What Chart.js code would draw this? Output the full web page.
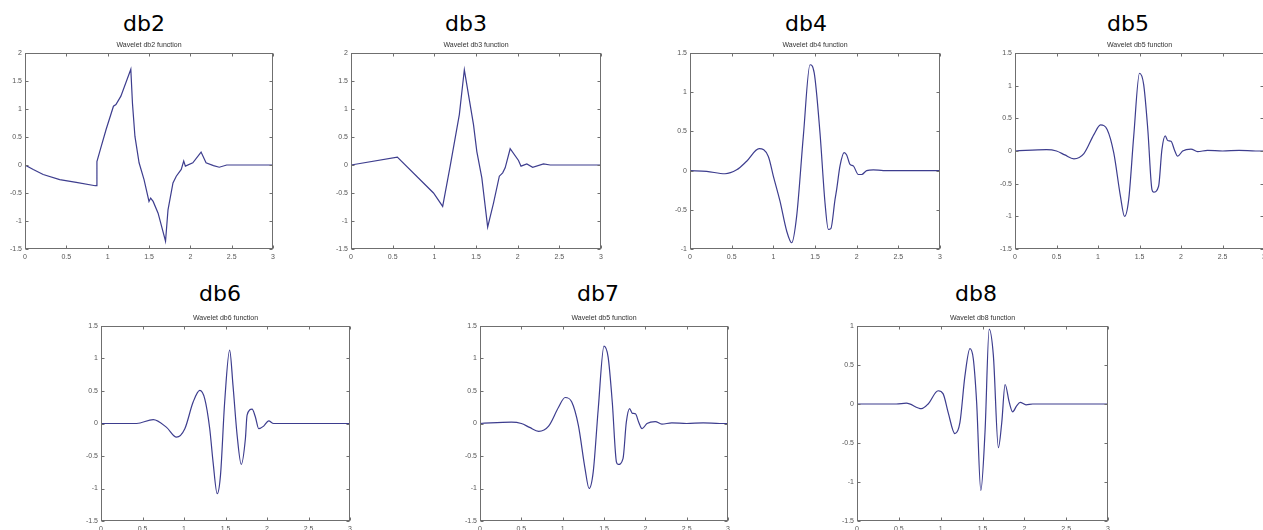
<!DOCTYPE html>
<html>
<head>
<meta charset="utf-8">
<script src="https://cdn.jsdelivr.net/npm/chart.js@4.4.1/dist/chart.umd.min.js"></script>
<style>
  html, body { margin: 0; padding: 0; background: #fff; }
  body { position: relative; width: 1263px; height: 530px; overflow: hidden; }
  .name {
    position: absolute;
    font-family: "DejaVu Sans", Verdana, sans-serif;
    font-size: 22px;
    line-height: 22px;
    color: #000;
    transform: translateX(-50%);
    white-space: nowrap;
  }
  canvas { position: absolute; }
</style>
</head>
<body>

<div class="name" style="left:144px; top:13px">db2</div>
<div class="name" style="left:466px; top:13px">db3</div>
<div class="name" style="left:806px; top:13px">db4</div>
<div class="name" style="left:1128px; top:13px">db5</div>
<div class="name" style="left:220px; top:283px">db6</div>
<div class="name" style="left:598px; top:283px">db7</div>
<div class="name" style="left:976px; top:283px">db8</div>

<canvas id="c-db2"></canvas>
<canvas id="c-db3"></canvas>
<canvas id="c-db4"></canvas>
<canvas id="c-db5"></canvas>
<canvas id="c-db6"></canvas>
<canvas id="c-db7"></canvas>
<canvas id="c-db8"></canvas>

<script>
// tick labels
const xTicks = [0, 0.5, 1, 1.5, 2, 2.5, 3];
const yTicksDb2 = [-1.5, -1, -0.5, 0, 0.5, 1, 1.5, 2];
const yTicksDb4 = [-1, -0.5, 0, 0.5, 1, 1.5];
const yTicksDb5 = [-1.5, -1, -0.5, 0, 0.5, 1, 1.5];
const yTicksDb8 = [-1.5, -1, -0.5, 0, 0.5, 1];

// wavelet curves
const db2X = [0, 0.1, 0.22, 0.42, 0.62, 0.85, 0.86, 0.87, 0.91, 0.98, 1.07, 1.10, 1.16, 1.28, 1.30, 1.33, 1.38, 1.44, 1.50, 1.52, 1.55, 1.61, 1.70, 1.73, 1.79, 1.83, 1.89, 1.92, 1.94, 2.03, 2.13, 2.19, 2.28, 2.35, 2.44, 3];
const db2Y = [0, -0.08, -0.17, -0.26, -0.31, -0.37, -0.37, 0.06, 0.27, 0.63, 1.05, 1.08, 1.23, 1.71, 1.1, 0.51, 0.04, -0.26, -0.65, -0.59, -0.65, -0.86, -1.36, -0.8, -0.32, -0.2, -0.08, 0.07, -0.02, 0.04, 0.23, 0.04, -0.01, -0.04, 0, 0];

const db3X = [0, 0.556, 0.99, 1.10, 1.19, 1.30, 1.36, 1.47, 1.51, 1.57, 1.64, 1.71, 1.78, 1.82, 1.85, 1.91, 2.01, 2.04, 2.11, 2.18, 2.31, 2.39, 3];
const db3Y = [0, 0.14, -0.5, -0.74, -0.02, 0.9, 1.70, 0.72, 0.24, -0.23, -1.11, -0.68, -0.2, -0.14, -0.05, 0.29, 0.08, -0.02, 0.02, -0.04, 0.02, 0, 0];

const db4X = [0, 0.2, 0.42, 0.56, 0.68, 0.83, 0.94, 1.0, 1.08, 1.16, 1.22, 1.28, 1.36, 1.44, 1.49, 1.56, 1.62, 1.66, 1.69, 1.74, 1.76, 1.80, 1.85, 1.88, 1.92, 1.96, 2.02, 2.06, 2.12, 2.2, 2.32, 3];
const db4Y = [0, -0.01, -0.04, 0.01, 0.12, 0.28, 0.18, -0.07, -0.39, -0.77, -0.92, -0.58, 0.44, 1.35, 1.25, 0.48, -0.41, -0.75, -0.74, -0.37, -0.24, 0.06, 0.23, 0.2, 0.08, 0.06, -0.05, -0.05, 0, 0.01, 0, 0];

const db5X = [0, 0.38, 0.50, 0.60, 0.71, 0.83, 0.95, 1.03, 1.11, 1.19, 1.27, 1.32, 1.37, 1.43, 1.50, 1.55, 1.60, 1.65, 1.67, 1.73, 1.77, 1.81, 1.84, 1.88, 1.92, 1.96, 2.02, 2.12, 2.20, 2.32, 2.5, 2.7, 2.9, 3];
const db5Y = [0, 0.02, 0, -0.06, -0.12, -0.04, 0.25, 0.40, 0.33, -0.03, -0.69, -1.0, -0.74, 0.22, 1.19, 1.02, 0.33, -0.59, -0.63, -0.54, 0.02, 0.23, 0.16, 0.15, 0.02, -0.08, 0, 0.03, -0.01, 0.01, 0, 0.01, 0, 0];

const db6X = [0, 0.43, 0.63, 0.79, 0.91, 1.01, 1.11, 1.19, 1.25, 1.31, 1.35, 1.40, 1.44, 1.49, 1.55, 1.59, 1.64, 1.69, 1.74, 1.76, 1.82, 1.86, 1.90, 1.96, 2.02, 2.08, 3];
const db6Y = [0, 0, 0.06, -0.06, -0.21, -0.08, 0.33, 0.51, 0.38, -0.08, -0.59, -1.08, -0.79, 0.33, 1.13, 0.59, -0.18, -0.63, -0.23, 0.13, 0.22, 0.10, -0.08, -0.04, 0.04, 0, 0];

// the db7 panel in the source repeats the db5 plot (its own title says db5)
const db7X = db5X;
const db7Y = db5Y;

const db8X = [0, 0.47, 0.59, 0.77, 0.85, 0.97, 1.03, 1.09, 1.17, 1.23, 1.29, 1.35, 1.39, 1.43, 1.48, 1.53, 1.58, 1.63, 1.69, 1.73, 1.77, 1.82, 1.86, 1.91, 1.95, 2.02, 2.10, 3];
const db8Y = [0, 0, 0.01, -0.06, 0, 0.17, 0.13, -0.11, -0.38, -0.24, 0.36, 0.71, 0.58, 0.02, -1.11, -0.36, 0.96, 0.62, -0.56, -0.24, 0.25, 0.02, -0.10, -0.02, 0.02, -0.01, 0, 0];

const LINE = '#3d3d8e';
const FRAME = '#6f6f6f';
const TICK = '#555';
const FONT = '"Liberation Sans", Arial, sans-serif';
const Y_AXIS_W = 28, X_AXIS_H = 16, TITLE_H = 11, PAD_R = 8, TL = 3;

// MATLAB style box with inward ticks
const framePlugin = {
  id: 'frame',
  afterDatasetsDraw(chart) {
    const { ctx, chartArea: a, scales } = chart;
    const l = Math.round(a.left) + 0.5, r = Math.round(a.right) - 0.5;
    const t = Math.round(a.top) + 0.5, b = Math.round(a.bottom) - 0.5;
    ctx.save();
    ctx.strokeStyle = FRAME;
    ctx.lineWidth = 1;
    ctx.strokeRect(l, t, r - l, b - t);
    ctx.beginPath();
    scales.x.ticks.forEach(tk => {
      const px = Math.round(scales.x.getPixelForValue(tk.value)) + 0.5;
      ctx.moveTo(px, b); ctx.lineTo(px, b - TL);
      ctx.moveTo(px, t); ctx.lineTo(px, t + TL);
    });
    scales.y.ticks.forEach(tk => {
      const py = Math.round(scales.y.getPixelForValue(tk.value)) + 0.5;
      ctx.moveTo(l, py); ctx.lineTo(l + TL, py);
      ctx.moveTo(r, py); ctx.lineTo(r - TL, py);
    });
    ctx.stroke();
    ctx.restore();
  }
};

function makeChart(id, box, xs, ys, yTicks, title, smooth) {
  const canvas = document.getElementById(id);
  canvas.width = box.w + Y_AXIS_W + PAD_R;
  canvas.height = box.h + TITLE_H + X_AXIS_H;
  canvas.style.left = (box.left - Y_AXIS_W) + 'px';
  canvas.style.top = (box.top - TITLE_H) + 'px';

  const tickFont = { family: FONT, size: 7 };
  return new Chart(canvas.getContext('2d'), {
    type: 'line',
    data: {
      datasets: [{
        data: xs.map((x, i) => ({ x: x, y: ys[i] })),
        borderColor: LINE,
        borderWidth: 1.2,
        pointRadius: 0,
        fill: false,
        tension: 0,
        cubicInterpolationMode: smooth ? 'monotone' : 'default'
      }]
    },
    options: {
      responsive: false,
      animation: false,
      events: [],
      layout: { padding: { left: 0, right: PAD_R, top: 0, bottom: 0 } },
      plugins: {
        legend: { display: false },
        tooltip: { enabled: false },
        title: {
          display: true,
          text: title,
          fullSize: false,
          color: '#333',
          font: { family: FONT, size: 7, lineHeight: 1, weight: 'normal' },
          padding: { top: 0, bottom: 4 }
        }
      },
      scales: {
        x: {
          type: 'linear',
          min: 0,
          max: 3,
          afterBuildTicks: s => { s.ticks = xTicks.map(v => ({ value: v })); },
          afterFit: s => { s.height = X_AXIS_H; },
          grid: { display: false, drawTicks: false },
          border: { display: false },
          ticks: { padding: 4, color: TICK, font: tickFont, maxRotation: 0, autoSkip: false, callback: v => String(v) }
        },
        y: {
          type: 'linear',
          min: yTicks[0],
          max: yTicks[yTicks.length - 1],
          afterBuildTicks: s => { s.ticks = yTicks.map(v => ({ value: v })); },
          afterFit: s => { s.width = Y_AXIS_W; },
          grid: { display: false, drawTicks: false },
          border: { display: false },
          ticks: { padding: 3, color: TICK, font: tickFont, autoSkip: false, callback: v => String(v) }
        }
      }
    },
    plugins: [framePlugin]
  });
}

makeChart('c-db2', { left: 25, top: 53, w: 248, h: 196 }, db2X, db2Y, yTicksDb2, 'Wavelet db2 function', false);
makeChart('c-db3', { left: 351, top: 53, w: 250, h: 196 }, db3X, db3Y, yTicksDb2, 'Wavelet db3 function', false);
makeChart('c-db4', { left: 690, top: 53, w: 250, h: 196 }, db4X, db4Y, yTicksDb4, 'Wavelet db4 function', true);
makeChart('c-db5', { left: 1015, top: 53, w: 249, h: 196 }, db5X, db5Y, yTicksDb5, 'Wavelet db5 function', true);
makeChart('c-db6', { left: 101, top: 326, w: 249, h: 195 }, db6X, db6Y, yTicksDb5, 'Wavelet db6 function', true);
makeChart('c-db7', { left: 480, top: 326, w: 248, h: 195 }, db7X, db7Y, yTicksDb5, 'Wavelet db5 function', true);
makeChart('c-db8', { left: 857, top: 326, w: 251, h: 195 }, db8X, db8Y, yTicksDb8, 'Wavelet db8 function', true);
</script>
</body>
</html>
